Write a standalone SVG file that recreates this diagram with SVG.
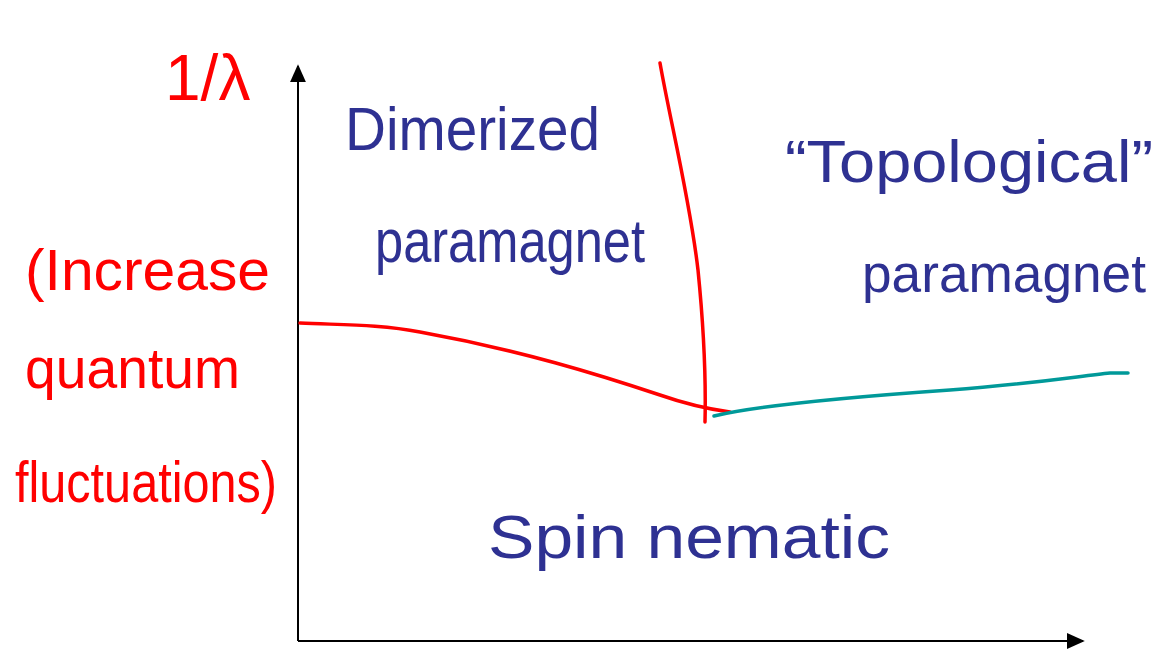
<svg xmlns="http://www.w3.org/2000/svg" width="1164" height="649" viewBox="0 0 1164 649">
<style>
.blue{font-family:"Liberation Sans",Arial,sans-serif;fill:#2e3192;font-size:62px;}
.red{font-family:"Liberation Sans",Arial,sans-serif;fill:#ff0000;font-size:58px;}
.axis{stroke:#000;stroke-width:2;fill:none;}
</style>
<defs>
<marker id="ahb" viewBox="0 0 10 10" refX="9" refY="5" markerWidth="18" markerHeight="16" markerUnits="userSpaceOnUse" orient="auto" preserveAspectRatio="none">
<path d="M0,0 L10,5 L0,10 z" fill="#000"/>
</marker>
</defs>
<rect width="1164" height="649" fill="#fff"/>
<g id="connectors">
<path id="y-axis" class="axis" d="M298,641 L298,66" marker-end="url(#ahb)"/>
<path id="x-axis" class="axis" d="M298,641 L1083,641" marker-end="url(#ahb)"/>
<path id="red-boundary" d="M300,323 C340,325 380,324 420,332 C520,350 600,375 660,395 C680,402 700,408 730,412" stroke="#ff0000" stroke-width="3.5" fill="none" stroke-linecap="round"/>
<path id="red-vertical" d="M660,63 C670,120 690,200 698,270 C704,330 706,380 705,422" stroke="#ff0000" stroke-width="3.5" fill="none" stroke-linecap="round"/>
<path id="teal-boundary" d="M714,416 C760,405 850,397 950,390 C1030,384 1080,376 1110,373 L1128,373" stroke="#009999" stroke-width="3.5" fill="none" stroke-linecap="round"/>
</g>
<g id="label-lambda">
<text class="red" x="165" y="100" style="font-size:64px">1/λ</text>
</g>
<g id="node-dimerized">
<text class="blue" x="345" y="150" textLength="255" lengthAdjust="spacingAndGlyphs">Dimerized</text>
<text class="blue" x="375" y="262" textLength="270" lengthAdjust="spacingAndGlyphs">paramagnet</text>
</g>
<g id="node-topological">
<text class="blue" x="785" y="182" style="font-size:60px" textLength="368" lengthAdjust="spacingAndGlyphs">“Topological”</text>
<text class="blue" x="862" y="292" style="font-size:54px" textLength="284" lengthAdjust="spacingAndGlyphs">paramagnet</text>
</g>
<g id="node-spin-nematic">
<text class="blue" x="488" y="558" textLength="402" lengthAdjust="spacingAndGlyphs">Spin  nematic</text>
</g>
<g id="label-quantum">
<text class="red" x="25" y="290" textLength="245" lengthAdjust="spacingAndGlyphs">(Increase</text>
<text class="red" x="25" y="388" textLength="215" lengthAdjust="spacingAndGlyphs">quantum</text>
<text class="red" x="15" y="502" textLength="262" lengthAdjust="spacingAndGlyphs">fluctuations)</text>
</g>
</svg>
